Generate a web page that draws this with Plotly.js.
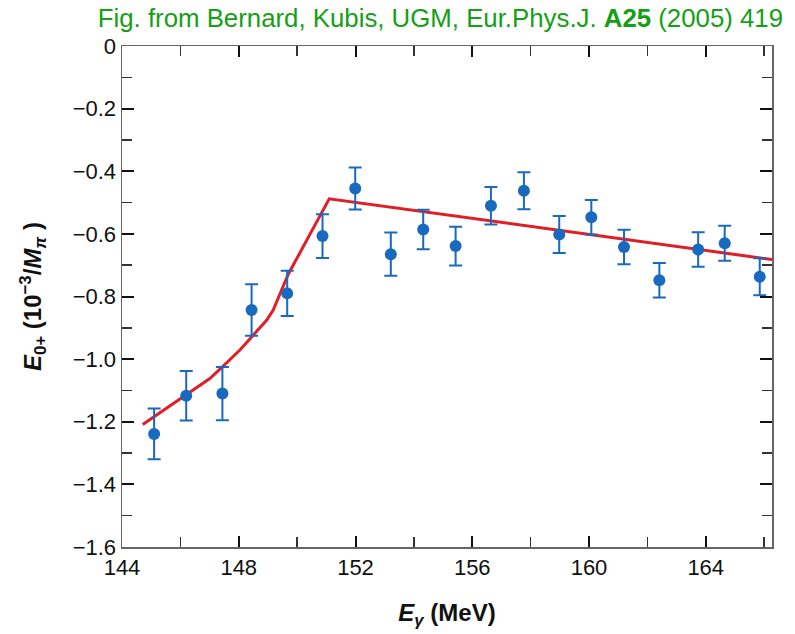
<!DOCTYPE html>
<html>
<head>
<meta charset="utf-8">
<script src="https://cdn.plot.ly/plotly-3.0.1.min.js"></script>
<style>html,body{margin:0;padding:0;background:#fff;}#chart{width:795px;height:634px;}</style>
</head>
<body>
<div id="chart"></div>
<script>
// Data points (E_gamma in MeV, E0+ in 10^-3/M_pi)
const energy = [145.10,146.20,147.44,148.44,149.66,150.87,151.99,153.21,154.32,155.43,156.64,157.77,158.98,160.08,161.20,162.41,163.74,164.65,165.85];
const e0plus = [-1.239,-1.117,-1.110,-0.843,-0.790,-0.607,-0.455,-0.665,-0.586,-0.639,-0.510,-0.462,-0.602,-0.547,-0.642,-0.748,-0.650,-0.630,-0.737];
const e0err  = [0.081,0.079,0.085,0.082,0.072,0.070,0.067,0.069,0.063,0.062,0.060,0.059,0.059,0.055,0.055,0.055,0.055,0.056,0.059];

// Theory curve
const curveX = [144.71,146.20,147.01,147.44,148.04,148.44,148.96,149.18,149.70,151.10,166.27];
const curveY = [-1.209,-1.113,-1.062,-1.025,-0.971,-0.929,-0.875,-0.843,-0.728,-0.488,-0.682];

// Tick labels
const xTickVals = [144,148,152,156,160,164];
const xTickText = ['144','148','152','156','160','164'];
const yTickVals = [0,-0.2,-0.4,-0.6,-0.8,-1.0,-1.2,-1.4,-1.6];
const yTickText = ['0','\u22120.2','\u22120.4','\u22120.6','\u22120.8','\u22121.0','\u22121.2','\u22121.4','\u22121.6'];

const blue = 'rgb(25,105,190)';
const red = 'rgb(225,30,40)';

const traces = [
  {x: curveX, y: curveY, type: 'scatter', mode: 'lines',
   line: {color: red, width: 3}, hoverinfo: 'skip'},
  {x: energy, y: e0plus, type: 'scatter', mode: 'markers',
   marker: {color: blue, size: 12},
   error_y: {type: 'data', array: e0err, visible: true, color: blue, thickness: 2, width: 6.5}}
];

const font = {family: 'Liberation Sans, Arial, sans-serif', color: '#111'};

const layout = {
  width: 795, height: 634,
  margin: {l: 122, r: 23, t: 46, b: 87},
  paper_bgcolor: '#fff', plot_bgcolor: '#fff',
  showlegend: false,
  font: Object.assign({size: 22}, font),
  title: {text: 'Fig. from Bernard, Kubis, UGM, Eur.Phys.J. <b>A25</b> (2005) 419',
          font: {family: 'Liberation Sans, Arial, sans-serif', size: 25.8, color: 'rgb(20,160,20)'},
          x: 0.985, xanchor: 'right', xref: 'container', y: 0.972, yanchor: 'middle'},
  xaxis: {
    range: [144, 166.27], showgrid: false, zeroline: false,
    tickvals: xTickVals, ticktext: xTickText,
    ticks: 'inside', ticklen: 11, tickwidth: 2, tickcolor: '#111',
    minor: {dtick: 2, ticks: 'inside', ticklen: 10, tickwidth: 1.5, tickcolor: '#333'},
    showline: true, linecolor: '#666', linewidth: 1.5, mirror: 'allticks',
    tickfont: {size: 22, color: '#111'},
    title: {text: '<b><i>E</i><sub><i>γ</i></sub> (MeV)</b>', font: {size: 24, color: '#111'}, standoff: 25}
  },
  yaxis: {
    range: [-1.6, 0], showgrid: false, zeroline: false,
    tickvals: yTickVals, ticktext: yTickText,
    ticks: 'inside', ticklen: 12, tickwidth: 2, tickcolor: '#111',
    minor: {dtick: 0.1, ticks: 'inside', ticklen: 10, tickwidth: 1.5, tickcolor: '#333'},
    showline: true, linecolor: '#666', linewidth: 1.5, mirror: 'allticks',
    tickfont: {size: 22, color: '#111'},
    title: {text: '<b><i>E</i><sub>0+</sub> (10<sup>−3</sup>/<i>M</i><sub><i>π</i></sub> )</b>', font: {size: 24, color: '#111'}, standoff: 24}
  }
};

Plotly.newPlot('chart', traces, layout, {displayModeBar: false, staticPlot: true});
</script>
</body>
</html>
